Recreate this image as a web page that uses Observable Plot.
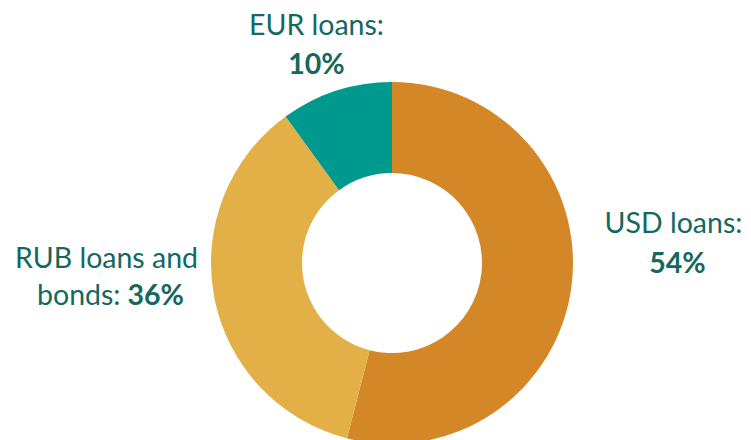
<!DOCTYPE html>
<html>
<head>
<meta charset="utf-8">
<script src="https://cdn.jsdelivr.net/npm/d3@7"></script>
<script src="https://cdn.jsdelivr.net/npm/@observablehq/plot@0.6"></script>
<style>
  html, body { margin: 0; padding: 0; background: #fff; }
  #chart svg { display: block; }
</style>
</head>
<body>
<div id="chart"></div>
<script>
// Data
const categories = ["USD loans", "RUB loans and bonds", "EUR loans"];
const shares = [54, 36, 10];
const colors = ["#D38726", "#E2B046", "#00998E"];

const data = categories.map((c, i) => ({category: c, value: shares[i]}));

// Layout
const W = 751, H = 440;
const cx = 392, cy = 263, R = 181, r = 90;
const textColor = "#13685F";
const font = "Lato, 'Open Sans', sans-serif";
const fs = 28.5;

const pie = d3.pie().value(d => d.value).sort(null);
const arcs = pie(data);
const arcGen = d3.arc().innerRadius(r).outerRadius(R);

function donut(index, scales) {
  const g = d3.create("svg:g");
  const X = scales.x(cx), Y = scales.y(cy);
  g.attr("transform", `translate(${X},${Y})`);
  g.selectAll("path").data(arcs).join("path")
    .attr("d", arcGen)
    .attr("fill", d => scales.color(d.data.category));
  return g.node();
}

const pct = d => d.value + "%";
const normal = [
  {t: "EUR loans:", x: 316, y: 34, a: "middle"},
  {t: "USD loans:", x: 673, y: 232, a: "middle"},
  {t: "RUB loans and", x: 106, y: 267, a: "middle"},
  {t: "bonds:", x: 120, y: 304, a: "end"}
];
const bold = [
  {t: pct(data[2]), x: 316, y: 73, a: "middle"},
  {t: pct(data[0]), x: 677, y: 272, a: "middle"},
  {t: pct(data[1]), x: 127, y: 304, a: "start"}
];

function textMarks(arr, weight) {
  return ["middle", "end", "start"].map(a =>
    Plot.text(arr.filter(d => d.a === a), {
      x: "x", y: "y", text: "t",
      textAnchor: a,
      fill: textColor,
      fontSize: fs,
      fontWeight: weight,
      lineAnchor: "bottom",
      fontFamily: font
    })
  );
}

const chart = Plot.plot({
  width: W,
  height: H,
  margin: 0,
  x: {domain: [0, W], range: [0, W], axis: null},
  y: {domain: [0, H], range: [0, H], axis: null},
  color: {domain: categories, range: colors},
  style: {fontFamily: font, background: "#fff"},
  marks: [
    donut,
    ...textMarks(normal, "normal"),
    ...textMarks(bold, "bold")
  ]
});

document.getElementById("chart").appendChild(chart);
</script>
</body>
</html>
